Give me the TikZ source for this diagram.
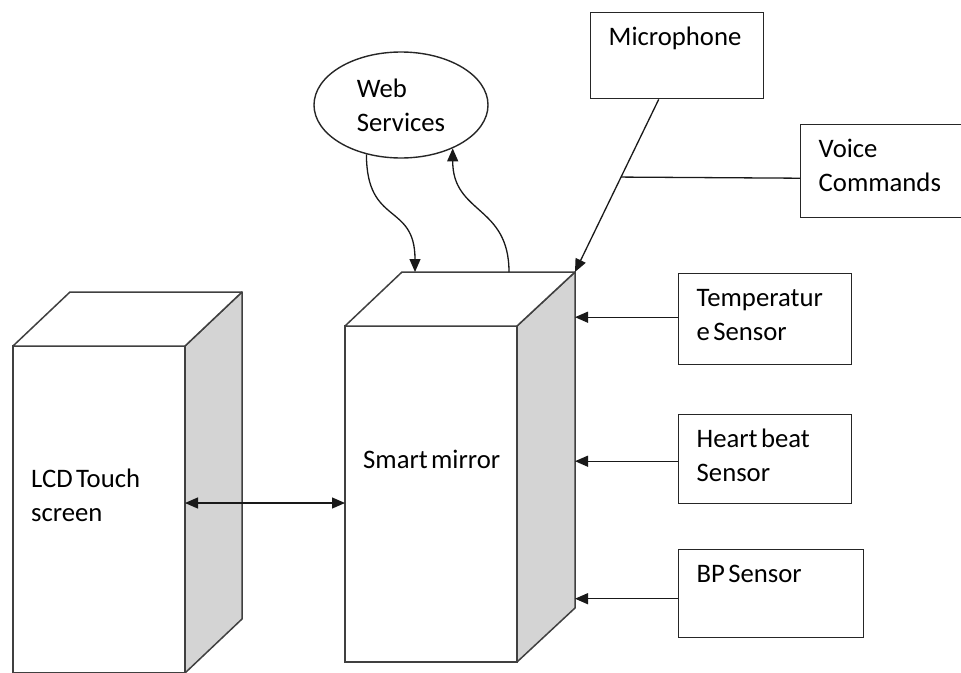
\documentclass[tikz,border=0pt]{standalone}
\usepackage{fontspec}
\setmainfont[WordSpace=0.55]{Carlito}
\usetikzlibrary{arrows.meta,shapes.geometric,calc}

\begin{document}
\begin{tikzpicture}
  [
    x=1pt, y=-1pt,
    font=\fontsize{26.7}{34}\selectfont,
    >={Triangle[length=13pt,width=11pt]},
    face/.style={draw=black!75,line width=1.5pt,fill=white,inner sep=0,outer sep=0},
    side/.style={draw=black!75,line width=1.5pt,fill=black!17,line join=round},
    box/.style={draw=black!85,line width=1.4pt,anchor=north west,align=flush left,inner xsep=18pt,inner ysep=15pt,text height=18pt},
    link/.style={draw=black!90,line width=1.3pt,->},
    txt/.style={anchor=base west,align=left,inner sep=0},
  ]
  \useasboundingbox (0,0) rectangle (961,672);
  \clip (0,0) rectangle (961,672);

  \node(lcd)[face,minimum width=172pt,minimum height=327pt] at (99,509.5){};
  \draw[side] (lcd.north east) -- ++(57,-54) -- ++(0,327) -- (lcd.south east) -- cycle;
  \draw[side,fill=white] (lcd.north west) -- ++(57,-54) -- ++(172,0) -- (lcd.north east) -- cycle;
  \node(lcdlabel)[txt] at (31,521){LCD Touch\\screen};

  \node(mirror)[face,minimum width=172pt,minimum height=336pt] at (431,494){};
  \draw[side] (mirror.north east) -- ++(58,-54) -- ++(0,336) -- (mirror.south east) -- cycle;
  \draw[side,fill=white] (mirror.north west) -- ++(57,-54) coordinate(mnw) -- ++(173,0) coordinate(mne) -- (mirror.north east) -- cycle;
  \node(mirrorlabel)[txt] at (363,468){Smart mirror};

  \node(web)[ellipse,draw=black!85,line width=1.4pt,minimum width=174pt,minimum height=106pt,align=left] at (401,105){Web\\Services};

  \node(mic)[box,text width=137pt,text depth=38pt] at (590,12){Microphone};
  \node(voice)[box,text width=125pt,text depth=45pt] at (800,124){Voice\\Commands};
  \node(temp)[box,text width=137pt,text depth=43pt] at (678,273){Temperatur\\e Sensor};
  \node(heart)[box,text width=137pt,text depth=41pt] at (678,414){Heart beat\\Sensor};
  \node(bp)[box,text width=149pt,text depth=40pt] at (678,549){BP Sensor};

  \coordinate (wi) at ([xshift=13pt]mnw);
  \coordinate (wo) at ([xshift=107pt]mnw);
  \draw[link] (web.235) .. controls +(0,72) and +(0,-70) .. (wi);
  \draw[link] (wo) .. controls +(0,-67) and +(0,66) .. (web.320);

  \coordinate (ms) at ([xshift=-18.5pt]mic.south);
  \draw[link] (ms) -- (mne);
  \draw[link,-] ([yshift=-7pt]voice.west) -- ($(ms)!0.45!(mne)$);

  \coordinate (ts) at ([yshift=2pt]temp.west);
  \coordinate (hs) at ([yshift=-2pt]heart.west);
  \coordinate (bs) at ([yshift=-5pt]bp.west);
  \draw[link] (ts) -- (ts -| mne);
  \draw[link] (hs) -- (hs -| mne);
  \draw[link] (bs) -- (bs -| mne);

  \coordinate (lm) at ([yshift=-9pt]mirror.west);
  \draw[link,<->] (lm -| lcd.east) -- (lm);

\end{tikzpicture}
\end{document}
